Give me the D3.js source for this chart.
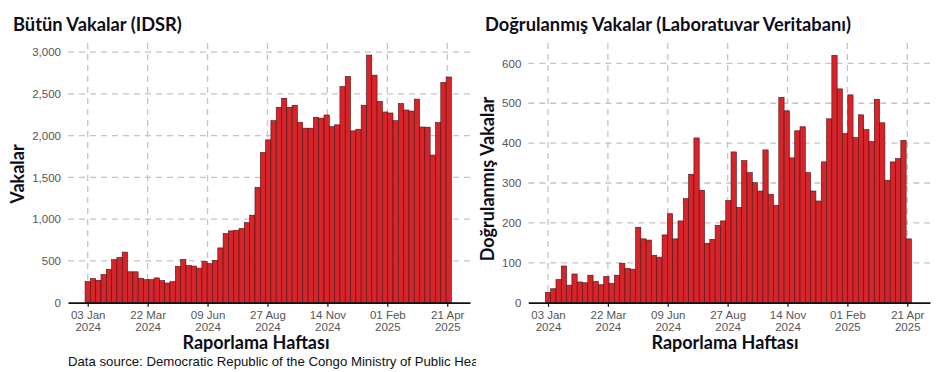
<!DOCTYPE html>
<html>
<head>
<meta charset="utf-8">
<script src="https://cdn.jsdelivr.net/npm/d3@7"></script>
<style>
  html, body { margin: 0; padding: 0; background: #fff; }
  svg { display: block; }
</style>
</head>
<body>
<div id="chart"></div>
<script>
// weekly reports, first week 03 Jan 2024
const firstWeek = new Date(2024, 0, 3);

// Bütün Vakalar (IDSR)
const allCases = [252, 289, 268, 337, 398, 516, 541, 606, 370, 370,
  293, 276, 276, 297, 264, 236, 252, 435, 516, 447,
  439, 414, 495, 468, 508, 656, 828, 860, 868, 888,
  960, 1048, 1380, 1798, 1950, 2180, 2340, 2448, 2340, 2364,
  2158, 2090, 2090, 2220, 2210, 2248, 2108, 2130, 2588, 2710,
  2058, 2077, 2365, 2965, 2725, 2410, 2284, 2272, 2180, 2385,
  2308, 2295, 2438, 2104, 2102, 1768, 2158, 2637, 2703];

// Doğrulanmış Vakalar (Laboratuvar Veritabanı)
const labCases = [26, 35, 58, 92, 44, 72, 52, 50, 69, 53,
  45, 66, 48, 69, 99, 86, 84, 189, 160, 157,
  119, 114, 170, 223, 160, 205, 261, 322, 413, 282,
  149, 159, 194, 205, 256, 378, 239, 356, 326, 301,
  280, 383, 272, 244, 515, 481, 363, 431, 441, 326,
  280, 255, 353, 461, 620, 536, 424, 521, 414, 471,
  434, 404, 510, 451, 307, 353, 361, 407, 160];

const xTickDates = [new Date(2024, 0, 3), new Date(2024, 2, 22), new Date(2024, 5, 9),
  new Date(2024, 7, 27), new Date(2024, 10, 14), new Date(2025, 1, 1), new Date(2025, 3, 21)];
const xDomain = [new Date(2023, 11, 8), new Date(2025, 4, 21)];

const allTicks = [0, 500, 1000, 1500, 2000, 2500, 3000];
const labTicks = [0, 100, 200, 300, 400, 500, 600];

const W = 945, H = 372;
const barFill = "#d6242a", barStroke = "#4a1414";
const gridColor = "#c4c4c4";
const titleFont = "Lato, 'Open Sans', sans-serif";
const tickFont = "'Liberation Sans', Arial, sans-serif";

const svg = d3.select("#chart").append("svg")
  .attr("width", W).attr("height", H)
  .attr("viewBox", [0, 0, W, H]);

svg.append("rect").attr("width", W).attr("height", H).attr("fill", "#fff");

function panel(cfg) {
  const g = svg.append("g");
  const top = 43, bottom = 302.7;

  const weeks = cfg.values.map((v, i) => ({ date: d3.timeDay.offset(firstWeek, 7 * i), value: v }));

  const x = d3.scaleTime().domain(xDomain).range(cfg.xRange);
  const y = d3.scaleLinear().domain([0, cfg.yMax]).range([bottom, top]);

  // grid
  g.append("g").selectAll("line.h")
    .data(cfg.yTicks.filter(d => d > 0))
    .join("line")
    .attr("x1", cfg.xRange[0]).attr("x2", cfg.xRange[1])
    .attr("y1", d => y(d)).attr("y2", d => y(d))
    .attr("stroke", gridColor).attr("stroke-width", 1.3)
    .attr("stroke-dasharray", "6,5");

  g.append("g").selectAll("line.v")
    .data(xTickDates)
    .join("line")
    .attr("x1", d => x(d)).attr("x2", d => x(d))
    .attr("y1", top).attr("y2", bottom)
    .attr("stroke", gridColor).attr("stroke-width", 1.3)
    .attr("stroke-dasharray", "6,5");

  // bars
  g.append("g").selectAll("rect")
    .data(weeks)
    .join("rect")
    .attr("x", d => x(d3.timeHour.offset(d.date, -84)))
    .attr("width", d => x(d3.timeHour.offset(d.date, 84)) - x(d3.timeHour.offset(d.date, -84)))
    .attr("y", d => y(d.value))
    .attr("height", d => y(0) - y(d.value))
    .attr("fill", barFill)
    .attr("stroke", barStroke)
    .attr("stroke-width", 0.6);

  // x axis
  const xa = g.append("g")
    .attr("transform", `translate(0,${bottom})`)
    .call(d3.axisBottom(x).tickValues(xTickDates).tickSize(4).tickSizeOuter(0));
  xa.select(".domain").attr("stroke", "#111").attr("stroke-width", 1.8);
  xa.selectAll(".tick line").attr("stroke", "#111").attr("stroke-width", 1.2);
  xa.selectAll(".tick text").text(null)
    .attr("fill", "#555").attr("font-family", tickFont).attr("font-size", 11.5)
    .attr("y", 0).attr("dy", null)
    .each(function (d) {
      const t = d3.select(this);
      t.append("tspan").attr("x", 0).attr("y", 16).text(d3.timeFormat("%d %b")(d));
      t.append("tspan").attr("x", 0).attr("y", 28).text(d3.timeFormat("%Y")(d));
    });

  // y axis labels
  const ya = g.append("g")
    .attr("transform", `translate(${cfg.xRange[0]},0)`)
    .call(d3.axisLeft(y).tickValues(cfg.yTicks).tickSize(0).tickPadding(7).tickFormat(d3.format(",")));
  ya.select(".domain").remove();
  ya.selectAll(".tick text").attr("fill", "#555").attr("font-family", tickFont).attr("font-size", 11.5);

  // titles
  g.append("text")
    .attr("x", cfg.titleX).attr("y", 31)
    .attr("font-family", titleFont).attr("font-weight", 700).attr("font-size", 18.3)
    .attr("fill", "#0d0d1a")
    .text(cfg.title);

  g.append("text")
    .attr("transform", `translate(${cfg.yTitleX},${cfg.yTitleY}) rotate(-90)`)
    .attr("text-anchor", "middle")
    .attr("font-family", titleFont).attr("font-weight", 700).attr("font-size", 18)
    .attr("fill", "#0d0d1a")
    .text(cfg.yTitle);

  g.append("text")
    .attr("x", cfg.xTitleX).attr("y", 349)
    .attr("text-anchor", "middle")
    .attr("font-family", titleFont).attr("font-weight", 700).attr("font-size", 18)
    .attr("fill", "#0d0d1a")
    .text("Raporlama Haftası");
}

panel({
  values: allCases, yMax: 3110, yTicks: allTicks,
  xRange: [68, 470],
  title: "Bütün Vakalar (IDSR)", titleX: 13,
  yTitle: "Vakalar", yTitleX: 24, yTitleY: 174,
  xTitleX: 256
});

panel({
  values: labCases, yMax: 651, yTicks: labTicks,
  xRange: [528.3, 930],
  title: "Doğrulanmış Vakalar (Laboratuvar Veritabanı)", titleX: 485,
  yTitle: "Doğrulanmış Vakalar", yTitleX: 494, yTitleY: 179,
  xTitleX: 725
});

// data source note, cut off by the neighbouring panel
svg.append("clipPath").attr("id", "srcClip")
  .append("rect").attr("x", 0).attr("y", 340).attr("width", 476).attr("height", 32);

svg.append("text")
  .attr("clip-path", "url(#srcClip)")
  .attr("x", 68).attr("y", 366)
  .attr("font-family", tickFont).attr("font-size", 13.2)
  .attr("fill", "#111")
  .text("Data source: Democratic Republic of the Congo Ministry of Public Health");
</script>
</body>
</html>
